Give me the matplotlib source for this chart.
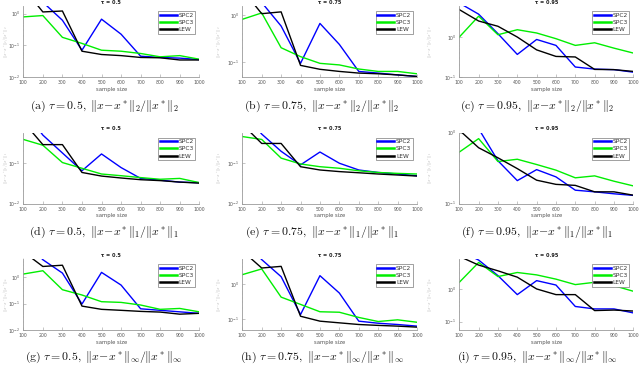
import matplotlib
matplotlib.use("Agg")
import matplotlib.pyplot as plt
from matplotlib.ticker import LogLocator, NullFormatter

plt.rcParams['mathtext.fontset'] = 'cm'

sample_size = [100, 200, 300, 400, 500, 600, 700, 800, 900, 1000]
series_names = ["SPC2", "SPC3", "LEW"]
taus = ["0.5", "0.75", "0.95"]
panel_letters = ["a", "b", "c", "d", "e", "f", "g", "h", "i"]
norm_subs = ["2", "1", r"\infty"]

# row 1: ||x-x*||_2 / ||x*||_2
spc2_a = [4.0, 2.3, 0.62, 0.071, 0.67, 0.226, 0.046, 0.042, 0.040, 0.036]
spc3_a = [0.79, 0.87, 0.18, 0.116, 0.071, 0.066, 0.056, 0.044, 0.048, 0.037]
lew_a = [6.5, 1.13, 1.21, 0.066, 0.052, 0.048, 0.042, 0.041, 0.035, 0.035]

spc2_b = [3.5, 1.87, 0.59, 0.095, 0.67, 0.24, 0.064, 0.059, 0.054, 0.050]
spc3_b = [0.82, 1.12, 0.204, 0.132, 0.095, 0.088, 0.072, 0.064, 0.064, 0.057]
lew_b = [3.5, 1.08, 1.18, 0.086, 0.071, 0.064, 0.059, 0.057, 0.054, 0.050]

spc2_c = [7.0, 3.7, 1.21, 0.37, 0.87, 0.62, 0.18, 0.16, 0.155, 0.134]
spc3_c = [1.0, 3.3, 1.14, 1.52, 1.26, 0.91, 0.62, 0.72, 0.53, 0.40]
lew_c = [4.8, 2.5, 1.85, 1.0, 0.48, 0.33, 0.32, 0.157, 0.155, 0.14]

# row 2: ||x-x*||_1 / ||x*||_1
spc2_d = [2.2, 0.50, 0.18, 0.065, 0.17, 0.078, 0.042, 0.038, 0.034, 0.033]
spc3_d = [0.39, 0.28, 0.104, 0.075, 0.054, 0.049, 0.044, 0.040, 0.042, 0.033]
lew_d = [1.07, 0.29, 0.29, 0.059, 0.048, 0.043, 0.039, 0.037, 0.034, 0.032]

spc2_e = [2.0, 0.53, 0.198, 0.091, 0.19, 0.10, 0.068, 0.059, 0.054, 0.049]
spc3_e = [0.46, 0.39, 0.134, 0.096, 0.082, 0.075, 0.065, 0.059, 0.056, 0.054]
lew_e = [0.93, 0.31, 0.31, 0.082, 0.068, 0.062, 0.058, 0.054, 0.051, 0.048]

spc2_f = [2.0, 1.13, 0.40, 0.21, 0.30, 0.237, 0.154, 0.146, 0.137, 0.13]
spc3_f = [0.53, 0.82, 0.39, 0.42, 0.354, 0.295, 0.23, 0.245, 0.206, 0.177]
lew_f = [1.08, 0.61, 0.44, 0.31, 0.213, 0.186, 0.18, 0.146, 0.146, 0.131]

# row 3: ||x-x*||_inf / ||x*||_inf
spc2_g = [30.0, 4.7, 1.46, 0.097, 1.55, 0.51, 0.064, 0.056, 0.049, 0.043]
spc3_g = [1.34, 1.79, 0.34, 0.214, 0.119, 0.112, 0.089, 0.061, 0.066, 0.049]
lew_g = [9.4, 2.6, 2.9, 0.081, 0.061, 0.056, 0.051, 0.048, 0.040, 0.043]

spc2_h = [20.0, 5.0, 1.62, 0.133, 1.73, 0.55, 0.086, 0.075, 0.069, 0.062]
spc3_h = [1.85, 2.7, 0.42, 0.26, 0.16, 0.155, 0.11, 0.084, 0.094, 0.08]
lew_h = [8.9, 2.87, 3.2, 0.119, 0.086, 0.077, 0.069, 0.065, 0.062, 0.058]

spc2_i = [15.0, 7.7, 2.56, 0.67, 1.8, 1.32, 0.29, 0.244, 0.244, 0.184]
spc3_i = [1.6, 6.5, 2.4, 3.2, 2.7, 2.0, 1.36, 1.6, 1.26, 0.85]
lew_i = [10.0, 5.4, 3.6, 2.3, 1.0, 0.67, 0.67, 0.217, 0.225, 0.21]

panels = [
    [(spc2_a, spc3_a, lew_a), (spc2_b, spc3_b, lew_b), (spc2_c, spc3_c, lew_c)],
    [(spc2_d, spc3_d, lew_d), (spc2_e, spc3_e, lew_e), (spc2_f, spc3_f, lew_f)],
    [(spc2_g, spc3_g, lew_g), (spc2_h, spc3_h, lew_h), (spc2_i, spc3_i, lew_i)],
]
ylims = [
    [(0.01, 1.7), (0.048, 1.55), (0.1, 5.8)],
    [(0.01, 0.58), (0.01, 0.58), (0.1, 1.0)],
    [(0.01, 5.0), (0.048, 5.2), (0.055, 8.3)],
]
colors = ["#0000ff", "#00ee00", "#000000"]

W, H = 640.0, 366.0
fig = plt.figure(figsize=(6.4, 3.66), dpi=100)

col_left = [23.3, 242.3, 459.3]
col_width = [176.0, 174.7, 174.0]
row_bottom = [77.3, 203.5, 330.0]
ax_h = 71.0
ylabel_off = [13.5, 19.0, 25.0]
caption_y = [106.0, 232.5, 357.0]
caption_x = [104.0, 322.0, 537.0]

axis_gray = "#9a9a9a"
k = 0
for r in range(3):
    for c in range(3):
        l, w, b = col_left[c], col_width[c], row_bottom[r]
        ax = fig.add_axes([l / W, 1 - b / H, w / W, ax_h / H])
        ax.set_yscale('log')
        for name, data, col in zip(series_names, panels[r][c], colors):
            ax.plot(sample_size, data, color=col, lw=1.0, label=name)
        ax.set_xlim(100, 1000)
        ax.set_ylim(*ylims[r][c])
        ax.set_xticks(sample_size)
        ax.set_xticklabels([str(s) for s in sample_size])
        ax.yaxis.set_major_locator(LogLocator(base=10))
        ax.yaxis.set_minor_locator(LogLocator(base=10, subs=range(2, 10)))
        ax.yaxis.set_minor_formatter(NullFormatter())
        for sp in ["top", "right"]:
            ax.spines[sp].set_visible(False)
        for sp in ["left", "bottom"]:
            ax.spines[sp].set_color(axis_gray)
            ax.spines[sp].set_linewidth(0.6)
        ax.tick_params(which='major', direction='in', length=2, width=0.4,
                       colors=axis_gray, labelcolor='#555555', labelsize=3.3)
        ax.tick_params(axis='x', which='major', pad=2.2)
        ax.tick_params(axis='y', which='major', pad=1.8)
        ax.tick_params(which='minor', direction='in', length=1, width=0.3,
                       colors=axis_gray)
        ax.set_xlabel("sample size", fontsize=3.8, color='#555555', labelpad=1.2)
        ns = norm_subs[r]
        ax.set_ylabel(r"$\Vert x\!-\!x^*\Vert_{%s}/\Vert x^*\Vert_{%s}$" % (ns, ns),
                      fontsize=3.0, color='#b0b0b0')
        ax.yaxis.set_label_coords(-ylabel_off[c] / w, 0.5)
        ax.set_title("τ = " + taus[c], fontsize=3.6, fontweight='bold', pad=1.5,
                     color='#222222')
        leg = ax.legend(loc='upper right', bbox_to_anchor=(1 - 4.0 / w, 1 - 5.0 / ax_h),
                        borderaxespad=0, fontsize=4.2, handlelength=2.9,
                        handletextpad=0.3, labelspacing=0.35, borderpad=0.3,
                        frameon=True, fancybox=False, framealpha=1)
        leg.get_frame().set_edgecolor('#7a7a7a')
        leg.get_frame().set_linewidth(0.5)
        for hl in leg.get_lines():
            hl.set_linewidth(1.8)
        for t in leg.get_texts():
            t.set_color('#333333')
        cap = (r"$\mathrm{(%s)}\ \tau = %s,\ \Vert x\!-\!x^*\Vert_{%s}/\Vert x^*\Vert_{%s}$"
               % (panel_letters[k], taus[c], ns, ns))
        fig.text(caption_x[c] / W, 1 - caption_y[r] / H, cap, ha='center', va='center',
                 fontsize=8.5, color='#111111')
        k += 1

fig.savefig("out.png", dpi=100)
